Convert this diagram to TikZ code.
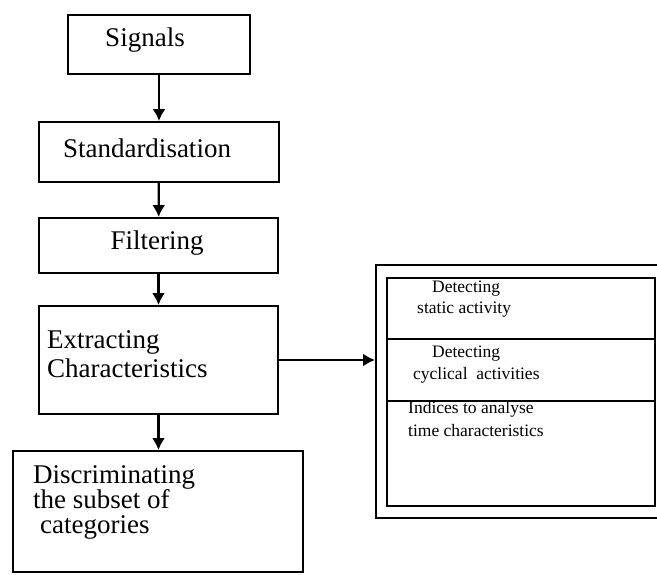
\documentclass[tikz,border=0pt]{standalone}
\usepackage{fontspec}
\setmainfont{Liberation Serif}
\usetikzlibrary{arrows.meta}

\tikzset{
  stepbox/.style={draw, line width=1.9pt, inner sep=0pt},
  bigtext/.style={inner sep=0pt, font=\fontsize{27}{29}\selectfont},
  smalltext/.style={inner sep=0pt, font=\fontsize{17.5}{21}\selectfont, align=left, anchor=north west},
  flow/.style={line width=2.2pt, -{Latex[length=12pt,width=13pt]}}
}

\begin{document}
\begin{tikzpicture}[x=1pt,y=-1pt]
\useasboundingbox (0,0) rectangle (657,575);
% main chain of steps
\node[stepbox, minimum width=182pt, minimum height=59pt] (sig) at (159,44.5) {};
\node[stepbox, minimum width=240pt, minimum height=60pt] (std) at (159,152) {};
\node[stepbox, minimum width=239pt, minimum height=55pt] (fil) at (158.5,245.5) {};
\node[stepbox, minimum width=239pt, minimum height=108pt] (ext) at (158.5,360) {};
\node[stepbox, minimum width=290pt, minimum height=121pt] (dis) at (158,511.5) {};

\node[bigtext] (sigtxt) at (145,40) {Signals};
\node[bigtext] (stdtxt) at (147,148) {Standardisation};
\node[bigtext] (filtxt) at (157,243) {Filtering};
\node[bigtext, align=left, anchor=north west, font=\fontsize{27}{29}\selectfont] (exttxt) at (47,330)
  {Extracting\\Characteristics};
\node[bigtext, align=left, anchor=north west, font=\fontsize{27}{25}\selectfont] (distxt) at (33,465)
  {Discriminating\\the subset of\\\hspace*{7pt}categories};

% characteristics box
\node[stepbox, minimum width=290pt, minimum height=253pt] (outer) at (521,391.5) {};
\node[stepbox, minimum width=268pt, minimum height=228pt] (inner) at (521,392) {};
\foreach \y in {339,401}
  \draw[line width=1.9pt] (inner.west |- 0,\y) -- (inner.east |- 0,\y);

\node[smalltext] (static) at (417,281) {\hspace*{15pt}Detecting\\static activity};
\node[smalltext, font=\fontsize{17.5}{22}\selectfont] (cyclic) at (413,346) {\hspace*{19pt}Detecting\\cyclical\ \ activities};
\node[smalltext, font=\fontsize{17.5}{23}\selectfont] (indices) at (408,401) {Indices to analyse\\time characteristics};

% connectors
\draw[flow] (sig) -- (std);
\draw[flow] (std) -- (fil);
\draw[flow] (fil) -- (ext);
\draw[flow] (ext.south) -- (ext.south |- dis.north);
\draw[flow] (ext.east) -- (ext.east -| outer.west);
\end{tikzpicture}
\end{document}
